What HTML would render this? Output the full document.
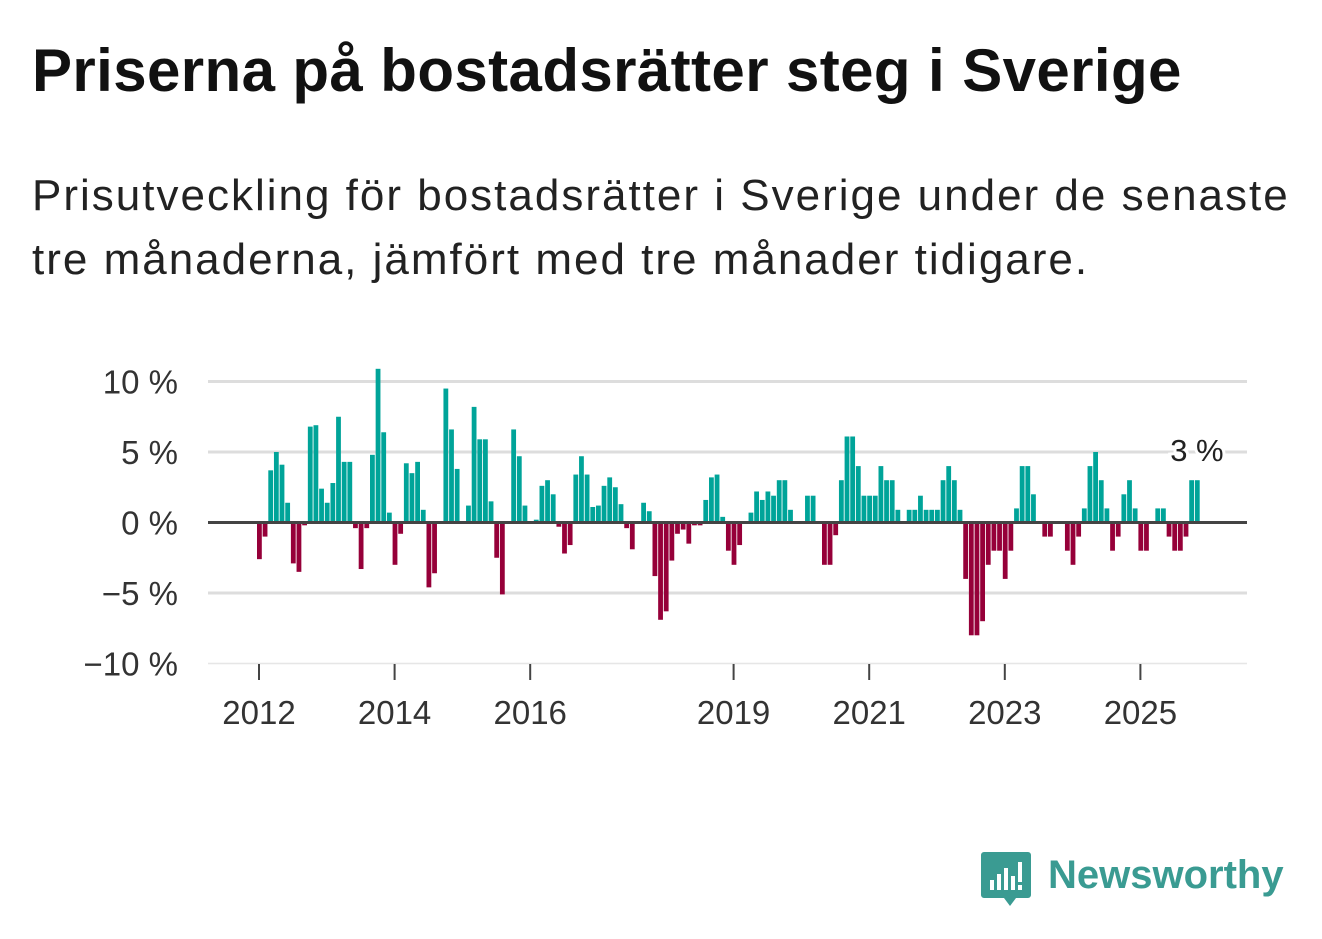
<!DOCTYPE html>
<html><head><meta charset="utf-8"><style>
body{margin:0;background:#fff;width:1322px;height:939px;overflow:hidden;font-family:"Liberation Sans",sans-serif;position:relative}
#title{position:absolute;left:32px;top:36px;font-size:60px;letter-spacing:0.4px;font-weight:bold;color:#111;margin:0;white-space:nowrap;line-height:70px}
#sub{position:absolute;left:32px;top:164px;font-size:44px;letter-spacing:2px;color:#222;line-height:64px;margin:0;width:1300px;white-space:nowrap}
svg{position:absolute;left:0;top:0}
</style></head><body>
<h1 id="title">Priserna på bostadsrätter steg i Sverige</h1>
<p id="sub">Prisutveckling för bostadsrätter i Sverige under de senaste<br>tre månaderna, jämfört med tre månader tidigare.</p>
<svg id="chart" width="1322" height="939"></svg>
<script>
const values=[-2.6,-1.0,3.7,5.0,4.1,1.4,-2.9,-3.5,-0.2,6.8,6.9,2.4,1.4,2.8,7.5,4.3,4.3,-0.4,-3.3,-0.4,4.8,10.9,6.4,0.7,-3.0,-0.8,4.2,3.5,4.3,0.9,-4.6,-3.6,0,9.5,6.6,3.8,-0.1,1.2,8.2,5.9,5.9,1.5,-2.5,-5.1,0,6.6,4.7,1.2,-0.1,0.2,2.6,3.0,2.0,-0.3,-2.2,-1.6,3.4,4.7,3.4,1.1,1.2,2.6,3.2,2.5,1.3,-0.4,-1.9,0,1.4,0.8,-3.8,-6.9,-6.3,-2.7,-0.8,-0.5,-1.5,-0.2,-0.2,1.6,3.2,3.4,0.4,-2.0,-3.0,-1.6,0,0.7,2.2,1.6,2.2,1.9,3.0,3.0,0.9,0,0,1.9,1.9,0,-3,-3,-0.9,3,6.1,6.1,4,1.9,1.9,1.9,4,3,3,0.9,0,0.9,0.9,1.9,0.9,0.9,0.9,3,4,3,0.9,-4,-8,-8,-7,-3,-2,-2,-4,-2,1,4,4,2,0,-1,-1,0,0,-2,-3,-1,1,4,5,3,1,-2,-1,2,3,1,-2,-2,0,1,1,-1,-2,-2,-1,3,3];
const startYear=2012;
const yearTicks=[2012,2014,2016,2019,2021,2023,2025];
const yTicks=[10,5,0,-5,-10];
const lastLabel="3 %";
const NS="http://www.w3.org/2000/svg";
const svg=document.getElementById('chart');
const x0=257,mw=5.65,bw=4.8;
const xs=m=>x0+mw*m;
const ys=v=>522.5-14.1*v;
function el(t,a){const e=document.createElementNS(NS,t);for(const k in a)e.setAttribute(k,a[k]);svg.appendChild(e);return e;}
yTicks.forEach(v=>{
 if(v!==0){const g=el('line',{x1:208,x2:1247,y1:ys(v),y2:ys(v),stroke:v===-10?'#e6e6e6':'#ddd','stroke-width':v===-10?1.5:3});
 
 }
 const t=el('text',{x:178,y:ys(v)+12,'text-anchor':'end','font-size':33,fill:'#333','font-family':'Liberation Sans, sans-serif'});
 t.textContent=(v<0?'\u2212'+(-v):v)+' %';
 
 
});
yearTicks.forEach(y=>{
 const x=xs((y-startYear)*12)+2;
 const l=el('line',{x1:x,x2:x,y1:664,y2:680,stroke:'#444','stroke-width':2});
 
 
 const t=el('text',{x:x,y:724,'text-anchor':'middle','font-size':33,fill:'#333','font-family':'Liberation Sans, sans-serif'});
 t.textContent=y;
 
 
});
values.forEach((v,i)=>{
 if(v===0)return;
 const y1=ys(Math.max(v,0)),y2=ys(Math.min(v,0));
 const r=el('rect',{x:xs(i),y:y1,width:bw,height:y2-y1,fill:v>0?'#00a499':'#960039'});
 
 
});
const z=el('line',{x1:208,x2:1247,y1:ys(0),y2:ys(0),stroke:'#444','stroke-width':3});


const li=values.length-1;
const lt=el('text',{x:xs(li)+2,y:ys(values[li])-19,'text-anchor':'middle','font-size':31,fill:'#222','font-family':'Liberation Sans, sans-serif',stroke:'#fff','stroke-width':6,'paint-order':'stroke'});
lt.textContent=lastLabel;


</script>
<svg width="1322" height="939" style="pointer-events:none">
<path d="M984 852 h44 a3 3 0 0 1 3 3 v40 a3 3 0 0 1 -3 3 h-12 l-6 8 l-6 -8 h-20 a3 3 0 0 1 -3 -3 v-40 a3 3 0 0 1 3 -3z" fill="#3a9b92"/>
<rect x="990" y="880" width="4" height="10" fill="#fff"/><rect x="997" y="874" width="4" height="16" fill="#fff"/><rect x="1004" y="868" width="4" height="22" fill="#fff"/><rect x="1011" y="876" width="4" height="14" fill="#fff"/><rect x="1018" y="862" width="4" height="20" fill="#fff"/><rect x="1018" y="885" width="4" height="5" fill="#fff"/>
<text x="1048" y="888" font-size="40" font-weight="bold" fill="#3a9b92" font-family="Liberation Sans, sans-serif">Newsworthy</text>
</svg>
</body></html>
